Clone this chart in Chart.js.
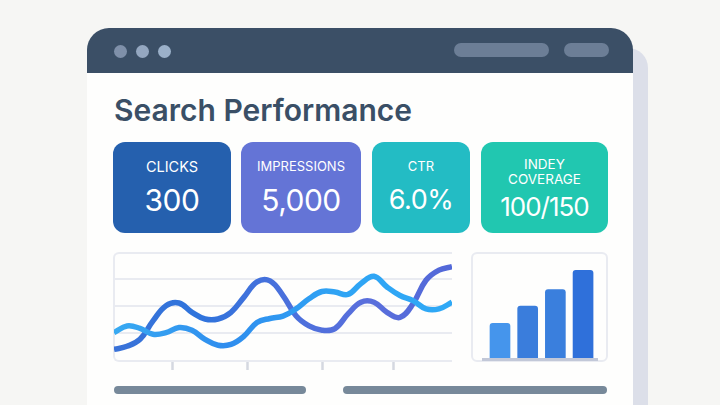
<!DOCTYPE html>
<html>
<head>
<meta charset="utf-8">
<script src="https://cdn.jsdelivr.net/npm/chart.js@4"></script>
<style>
  html, body { margin: 0; padding: 0; }
  body { width: 720px; height: 405px; overflow: hidden; position: relative; background: #f6f6f4; font-family: Inter, sans-serif; }
  div { position: absolute; box-sizing: border-box; }
  .shadow { left: 600px; top: 48px; width: 48px; height: 380px; background: #dcdfe9; border-radius: 20px; }
  .window { left: 87px; top: 28px; width: 546px; height: 400px; background: #fefefd; border-radius: 22px 22px 0 0; overflow: hidden; }
  .bar { left: 0; top: 0; width: 546px; height: 45px; background: #3b4f66; }
  .dot { top: 16.5px; width: 13px; height: 13px; border-radius: 50%; }
  .pill { top: 15px; height: 14px; border-radius: 7px; background: #6c7e96; }
  .title { left: 114px; top: 92px; font-size: 30px; line-height: 36px; font-weight: 600; color: #3a4f66; white-space: nowrap; }
  .kpi { top: 142px; height: 91px; border-radius: 12px; color: #fff; text-align: center; }
  .kpi .lab { left: 0; right: 0; top: 17px; font-size: 13px; line-height: 15px; }
  .kpi .val { left: 0; right: 0; top: 40px; font-size: 30px; line-height: 36px; letter-spacing: -0.5px; }
  .kpi:nth-child(1) .lab { font-size: 14.5px; }
  .kpi:nth-child(3) .val { font-size: 27px; }
  .kpi.two .lab { top: 15px; font-size: 13.5px; line-height: 14.5px; }
  .kpi.two .val { top: 50px; font-size: 26px; line-height: 30px; letter-spacing: -1px; }
  .frame { border: 2px solid #e9ebf1; background: #fefefd; }
  .foot { top: 386px; height: 7.5px; border-radius: 4px; background: #77899a; }
</style>
</head>
<body>
<div class="shadow"></div>
<div class="window">
  <div class="bar">
    <div class="dot" style="left:26.5px;background:#7f90a9"></div>
    <div class="dot" style="left:48.5px;background:#94a7c0"></div>
    <div class="dot" style="left:70.5px;background:#9bb0c9"></div>
    <div class="pill" style="left:367px;width:95px"></div>
    <div class="pill" style="left:477px;width:45px"></div>
  </div>
</div>
<div class="title">Search Performance</div>
<div id="kpis"></div>

<div class="frame" style="left:113px;top:252px;width:345px;height:110px;border-right:none;border-radius:6px 0 0 6px"></div>
<div style="left:452px;top:245px;width:10px;height:125px;background:#fefefd"></div>
<div style="left:114px;top:252px;width:338px;height:118px"><canvas id="lineChart"></canvas></div>

<div class="frame" style="left:471px;top:252px;width:137px;height:110px;border-radius:6px"></div>
<div style="left:482px;top:252px;width:116px;height:110px"><canvas id="barChart"></canvas></div>

<div class="foot" style="left:113.5px;width:192.5px"></div>
<div class="foot" style="left:343px;width:264px"></div>

<script>
// KPI tiles
const kpiLabels = ["CLICKS", "IMPRESSIONS", "CTR", "INDEY<br>COVERAGE"];
const kpiValues = ["300", "5,000", "6.0%", "100/150"];
const kpiLeft = [113, 241, 372, 481];
const kpiWidth = [118, 120, 98, 127];
const kpiColors = ["#2560ae", "#6474d6", "#23bcc4", "#21c7b0"];

// line chart
const lineX = [0,1,2,3,4,5,6,7,8,9,10,11,12,13,14,15,16,17,18,19,20,21,22,23,24,25,26];
const darkLine = [37,49,75,144,201,211,176,151,151,176,233,290,294,239,163,125,109,115,170,214,214,176,157,208,296,334,347];
const lightLine = [100,125,116,94,100,119,109,75,53,56,87,138,153,162,189,227,254,252,243,284,311,271,239,220,189,189,214];
const lineGrid = [100, 200, 300];
const lineMarks = [4.5, 10.25, 16, 21.5];

// bar chart
const barX = [0, 1, 2, 3];
const barValues = [35, 52, 68, 87];
const barColors = ["#4595ec", "#3a7ddc", "#3a7fdd", "#2f70da"];

const kpis = document.getElementById("kpis");
kpiLabels.forEach((label, i) => {
  const tile = document.createElement("div");
  tile.className = "kpi" + (label.includes("<br>") ? " two" : "");
  tile.style.left = kpiLeft[i] + "px";
  tile.style.width = kpiWidth[i] + "px";
  tile.style.background = kpiColors[i];
  tile.innerHTML = '<div class="lab">' + label + '</div><div class="val">' + kpiValues[i] + '</div>';
  kpis.appendChild(tile);
});

function sweep(stops) {
  return ctx => {
    const area = ctx.chart.chartArea;
    if (!area) return stops[0];
    const g = ctx.chart.ctx.createLinearGradient(area.left, 0, area.right, 0);
    stops.forEach((c, i) => g.addColorStop(i / (stops.length - 1), c));
    return g;
  };
}

new Chart(document.getElementById("lineChart"), {
  type: "line",
  data: {
    datasets: [
      {
        data: lightLine.map((v, i) => ({ x: lineX[i], y: v })),
        borderColor: sweep(["#38aaf2", "#2f8dee", "#2fa4f4", "#2fa9f6"]),
        borderWidth: 5.5,
        tension: 0.4,
        pointRadius: 0,
      },
      {
        data: darkLine.map((v, i) => ({ x: lineX[i], y: v })),
        borderColor: sweep(["#3a72d8", "#2f74dc", "#4a70dc", "#5a6fdc", "#5268d8"]),
        borderWidth: 5.5,
        tension: 0.4,
        pointRadius: 0,
      },
    ],
  },
  options: {
    responsive: true,
    maintainAspectRatio: false,
    animation: false,
    events: [],
    layout: { padding: 0 },
    plugins: { legend: { display: false }, tooltip: { enabled: false } },
    scales: {
      x: {
        type: "linear",
        min: 0,
        max: 26,
        afterBuildTicks: axis => { axis.ticks = lineMarks.map(v => ({ value: v })); },
        ticks: { display: false },
        border: { display: false },
        grid: { drawOnChartArea: false, tickLength: 8, tickColor: "#d5d8e0", tickWidth: 2.5 },
      },
      y: {
        min: -10,
        max: 402,
        afterBuildTicks: axis => { axis.ticks = lineGrid.map(v => ({ value: v })); },
        ticks: { display: false },
        border: { display: false },
        grid: { drawTicks: false, color: "#e9ebf1", lineWidth: 2 },
      },
    },
  },
});

new Chart(document.getElementById("barChart"), {
  type: "bar",
  data: {
    datasets: [
      {
        data: barValues.map((v, i) => ({ x: barX[i], y: v })),
        backgroundColor: barColors,
        barThickness: 20,
        borderRadius: { topLeft: 3, topRight: 3 },
        borderSkipped: "bottom",
      },
    ],
  },
  options: {
    responsive: true,
    maintainAspectRatio: false,
    animation: false,
    events: [],
    layout: { padding: { bottom: 3 } },
    plugins: { legend: { display: false }, tooltip: { enabled: false } },
    scales: {
      x: {
        type: "linear",
        offset: false,
        min: -0.65,
        max: 3.54,
        ticks: { display: false },
        border: { display: true, color: "#c2c8d8", width: 3, z: 1 },
        grid: { display: false, drawTicks: false },
      },
      y: {
        min: 0,
        max: 105,
        display: false,
      },
    },
  },
});
</script>
</body>
</html>
